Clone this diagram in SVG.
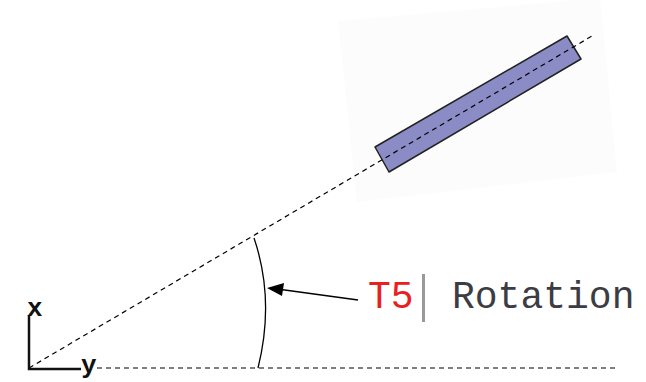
<svg xmlns="http://www.w3.org/2000/svg" width="646" height="382" viewBox="0 0 646 382">
<defs>
<style>
.dash{fill:none;stroke:#000;stroke-width:1.2;stroke-dasharray:5,4}
.axis{fill:none;stroke:#111;stroke-width:2.5}
.mono{font-family:"Liberation Mono","Courier New",monospace}
</style>
</defs>
<rect width="646" height="382" fill="#fff"/>
<g id="panel">
<polygon points="338,21 600,-2 617,172 357,202" fill="#fcfcfc"/>
</g>
<g id="bar">
<polygon points="375,147 567,36 581,59 389,172" fill="#8b8bc6" stroke="#222" stroke-width="1.5" stroke-linejoin="round"/>
</g>
<g id="connectors">
<line class="dash" x1="29" y1="368" x2="592" y2="36"/>
<line class="dash" x1="97" y1="368" x2="615" y2="368"/>
<path d="M254,238 Q275,300 258,368" fill="none" stroke="#000" stroke-width="1.3"/>
<line x1="358" y1="300" x2="270" y2="288" stroke="#000" stroke-width="1.5"/>
<polygon points="267,288 284,283 282,296" fill="#000"/>
</g>
<g id="axes">
<polyline class="axis" points="29,315 29,369 81,369"/>
<text class="mono" x="27" y="316" font-size="26" font-weight="bold" fill="#111">x</text>
<text class="mono" x="81" y="373" font-size="26" font-weight="bold" fill="#111">y</text>
</g>
<g id="label">
<text class="mono" x="368" y="308" font-size="38" fill="#e82020">T5</text>
<rect x="422" y="274" width="3" height="48" fill="#999"/>
<text class="mono" x="452" y="308" font-size="38" fill="#3c3c44">Rotation</text>
</g>
</svg>
